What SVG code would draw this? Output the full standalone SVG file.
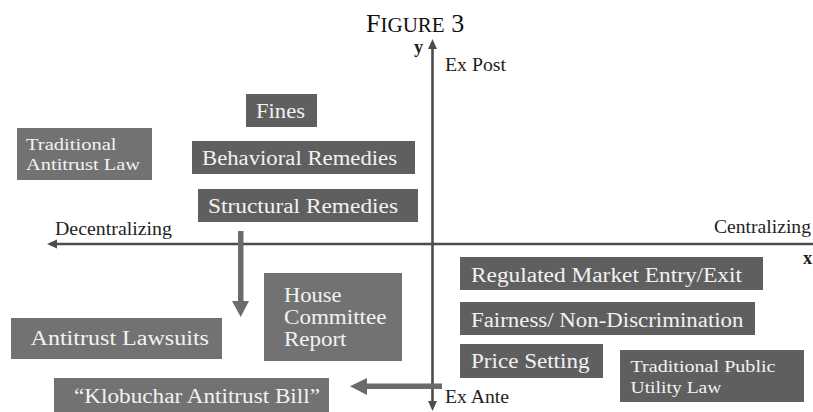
<svg xmlns="http://www.w3.org/2000/svg" width="813" height="412" viewBox="0 0 813 412">
<defs>
<style>
.box{fill:#5f5f5f;}
.boxl{fill:#727272;}
.bt{font-family:"Liberation Serif",serif;font-size:20.5px;fill:#f2f2f2;}
.bs{font-family:"Liberation Serif",serif;font-size:17.5px;fill:#f2f2f2;}
.lab{font-family:"Liberation Serif",serif;font-size:18.5px;fill:#1e1e1e;}
.ax{stroke:#4d4d4d;stroke-width:2.6;fill:none;}
.axh{fill:#4d4d4d;}
.conn{fill:#6b6b6b;}
.title{font-family:"Liberation Serif",serif;font-size:26px;fill:#111;}
</style>
</defs>
<rect width="813" height="412" fill="#ffffff"/>
<text class="title" x="366" y="32">F<tspan font-size="21">IGURE</tspan> 3</text>

<g id="axes">
<line class="ax" x1="432.5" y1="46" x2="432.5" y2="404"/>
<polygon class="axh" points="432.5,39 428,49 437,49"/>
<polygon class="axh" points="432.5,411 428,401 437,401"/>
<line class="ax" x1="54" y1="244" x2="813" y2="244"/>
<polygon class="axh" points="47,244 57,239.5 57,248.5"/>
<text class="lab" x="414" y="53" font-weight="bold" font-size="15">y</text>
<text class="lab" x="803" y="264" font-weight="bold" font-size="16">x</text>
<text class="lab" x="445" y="71" textLength="61" lengthAdjust="spacingAndGlyphs">Ex Post</text>
<text class="lab" x="445" y="403" textLength="64" lengthAdjust="spacingAndGlyphs">Ex Ante</text>
<text class="lab" x="55" y="235" textLength="117" lengthAdjust="spacingAndGlyphs">Decentralizing</text>
<text class="lab" x="714" y="233" textLength="97" lengthAdjust="spacingAndGlyphs">Centralizing</text>
</g>

<g id="connectors">
<rect class="conn" x="238" y="231" width="5.5" height="71"/>
<polygon class="conn" points="232,301 249,301 240.7,317"/>
<rect class="conn" x="366" y="383.5" width="76" height="5.5"/>
<polygon class="conn" points="367,378 367,395 350,386.3"/>
</g>

<g id="fines">
<rect class="box" x="246" y="94" width="71" height="33"/>
<text class="bt" x="256" y="118" textLength="49" lengthAdjust="spacingAndGlyphs">Fines</text>
</g>
<g id="behavioral">
<rect class="box" x="192" y="141" width="223" height="33"/>
<text class="bt" x="202" y="165" textLength="195" lengthAdjust="spacingAndGlyphs">Behavioral Remedies</text>
</g>
<g id="structural">
<rect class="box" x="198" y="189" width="220" height="33"/>
<text class="bt" x="208" y="213" textLength="190" lengthAdjust="spacingAndGlyphs">Structural Remedies</text>
</g>
<g id="trad-antitrust">
<rect class="boxl" x="17" y="128" width="135" height="52"/>
<text class="bs" x="26" y="150" textLength="90.5" lengthAdjust="spacingAndGlyphs">Traditional</text>
<text class="bs" x="26" y="170" textLength="114" lengthAdjust="spacingAndGlyphs">Antitrust Law</text>
</g>
<g id="antitrust-lawsuits">
<rect class="boxl" x="11" y="318" width="211" height="41"/>
<text class="bt" x="30.5" y="345" textLength="178.5" lengthAdjust="spacingAndGlyphs">Antitrust Lawsuits</text>
</g>
<g id="house-committee">
<rect class="boxl" x="264" y="273" width="138" height="88"/>
<text class="bt" x="284" y="302" textLength="57.5" lengthAdjust="spacingAndGlyphs">House</text>
<text class="bt" x="284" y="324" textLength="102.5" lengthAdjust="spacingAndGlyphs">Committee</text>
<text class="bt" x="284" y="346" textLength="62.5" lengthAdjust="spacingAndGlyphs">Report</text>
</g>
<g id="klobuchar">
<rect class="boxl" x="54" y="378" width="275" height="40"/>
<text class="bt" x="74" y="403" textLength="246" lengthAdjust="spacingAndGlyphs">“Klobuchar Antitrust Bill”</text>
</g>
<g id="regulated">
<rect class="box" x="460" y="257" width="303" height="33"/>
<text class="bt" x="471" y="281.5" textLength="271" lengthAdjust="spacingAndGlyphs">Regulated Market Entry/Exit</text>
</g>
<g id="fairness">
<rect class="box" x="460" y="302" width="295" height="33"/>
<text class="bt" x="471" y="326.5" textLength="272.5" lengthAdjust="spacingAndGlyphs">Fairness/ Non-Discrimination</text>
</g>
<g id="price">
<rect class="box" x="460" y="344" width="143" height="34"/>
<text class="bt" x="471" y="368" textLength="118.5" lengthAdjust="spacingAndGlyphs">Price Setting</text>
</g>
<g id="trad-public">
<rect class="box" x="620" y="350" width="184" height="52"/>
<text class="bs" x="630.5" y="371.5" textLength="145" lengthAdjust="spacingAndGlyphs">Traditional Public</text>
<text class="bs" x="630.5" y="393" textLength="91" lengthAdjust="spacingAndGlyphs">Utility Law</text>
</g>
</svg>
